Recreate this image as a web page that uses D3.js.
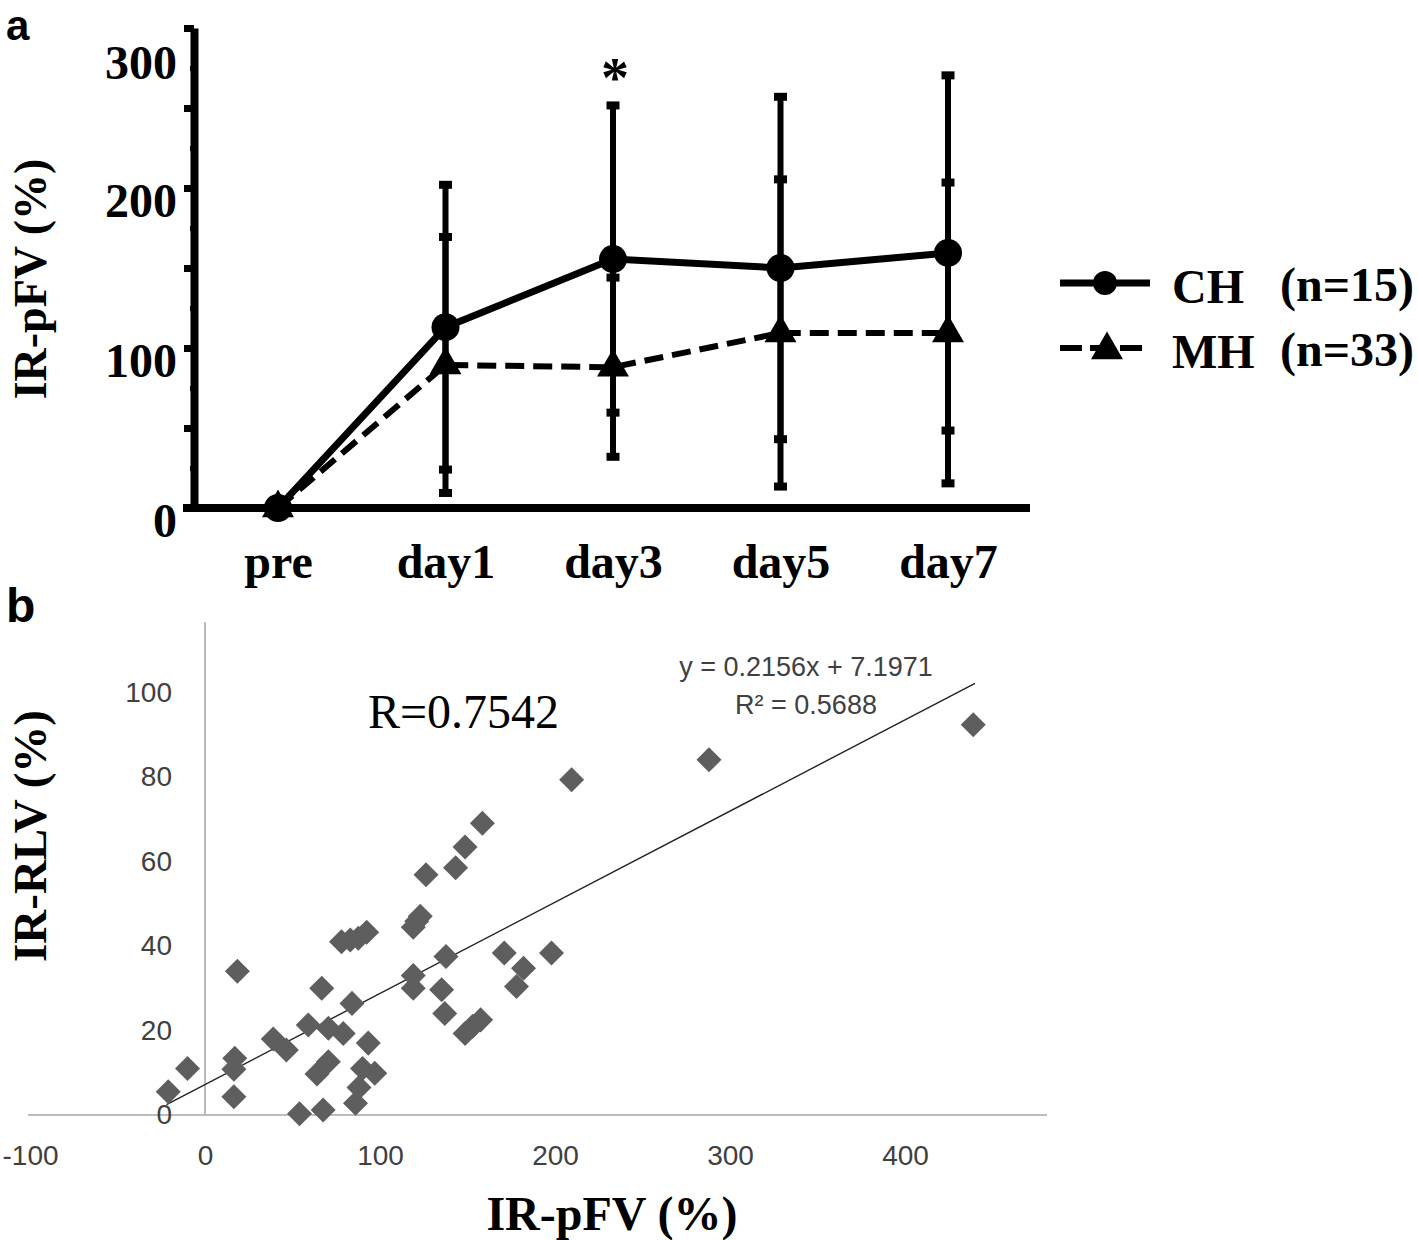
<!DOCTYPE html>
<html>
<head>
<meta charset="utf-8">
<script src="https://cdn.jsdelivr.net/npm/d3@7"></script>
<style>
  html, body { margin: 0; padding: 0; background: #fff; }
  svg { display: block; }
</style>
</head>
<body>
<svg id="chart" width="1418" height="1240"></svg>
<script>
// ---------------- DATA ----------------
// Panel a
const categories = ["pre", "day1", "day3", "day5", "day7"];
const chMean = [0, 113, 155.6, 150, 159.4];
const chSD   = [0, 89, 96, 107, 111];
const mhMean = [0, 89.4, 88, 109.4, 109.4];
const mhSD   = [0, 80, 56, 96, 94];
const yTicksA = [0, 100, 200, 300];
const yMinorA = [0, 25, 50, 75, 100, 125, 150, 175, 200, 225, 250, 275, 300];
const legendLabels = ["CH", "MH"];
const legendN = ["(n=15)", "(n=33)"];

// Panel b
const pfv = [-21, -10, 16.5, 16.5, 17, 18.5, 39, 46.5, 54, 59, 64, 66.7, 67.5, 70.5, 70.5, 79, 78, 83, 84, 86,
             87.6, 88, 90, 92.4, 93.3, 97, 119, 119, 119, 121, 123, 126.3, 135.2, 137, 137.7, 143.2, 148.6, 148.6,
             153, 157.5, 158.5, 171, 178, 182, 198, 209.5, 288, 439];
const rlv = [5.5, 11, 4.3, 10.8, 13.4, 34, 18, 15.4, 0.3, 21.3, 9.7, 30, 1.2, 12.6, 20.5, 19.3, 41, 41.4, 26.4, 2.8,
             41.8, 6.5, 11, 43.2, 17, 9.9, 30, 33, 44.4, 45.8, 47, 56.8, 29.6, 24, 37.5, 58.5, 63.4, 19.3,
             21, 22.5, 69, 38.3, 30.4, 34.7, 38.3, 79.3, 84, 92.3];
const xTicksB = [-100, 0, 100, 200, 300, 400];
const yTicksB = [0, 20, 40, 60, 80, 100];
const fitSlope = 0.2156, fitIntercept = 7.1971;
const fitRange = [-22, 440];
const eqText = "y = 0.2156x + 7.1971";
const r2Text = "R\u00B2 = 0.5688";
const rText = "R=0.7542";

// ---------------- DRAW ----------------
const svg = d3.select("#chart");
svg.append("rect").attr("width", 1418).attr("height", 1240).attr("fill", "#fff");

const SERIF = "'Liberation Serif', 'Times New Roman', serif";
const SANS = "'Liberation Sans', Arial, sans-serif";

// ===== Panel a =====
const xA = d3.scalePoint().domain(categories).range([278, 948]);
const yA = d3.scaleLinear().domain([0, 300]).range([508, 28]);

const gA = svg.append("g");

// y axis
const yAxisA = d3.axisLeft(yA).tickValues(yMinorA)
  .tickSizeInner(10).tickSizeOuter(0).tickPadding(7)
  .tickFormat(d => yTicksA.includes(d) ? d : "");
const gy = gA.append("g").attr("transform", "translate(194,0)").call(yAxisA);
gy.select(".domain").attr("stroke", "#000").attr("stroke-width", 8);
gy.selectAll(".tick line")
  .attr("stroke", "#000")
  .attr("stroke-width", d => d % 50 === 0 ? 7 : 5)
  .attr("x2", d => d % 50 === 0 ? -10 : -4);
gy.selectAll(".tick text")
  .attr("font-family", SERIF).attr("font-weight", "bold").attr("font-size", 48)
  .attr("fill", "#000").attr("dy", d => d === 300 ? "1.05em" : "0.6em");

// x axis
gA.append("line").attr("x1", 183).attr("x2", 1030)
  .attr("y1", yA(0)).attr("y2", yA(0))
  .attr("stroke", "#000").attr("stroke-width", 8);
const xAxisA = d3.axisBottom(xA).tickSize(0).tickPadding(36);
const gx = gA.append("g").attr("transform", `translate(0,${yA(0)})`).call(xAxisA);
gx.select(".domain").remove();
gx.selectAll(".tick text")
  .attr("font-family", SERIF).attr("font-weight", "bold").attr("font-size", 48).attr("fill", "#000");

// error bars
const series = [
  { name: "CH", mean: chMean, sd: chSD },
  { name: "MH", mean: mhMean, sd: mhSD }
];
series.forEach(s => {
  categories.forEach((c, i) => {
    if (s.sd[i] <= 0) return;
    const x = xA(c);
    const top = yA(s.mean[i] + s.sd[i]);
    const bot = yA(Math.max(0, s.mean[i] - s.sd[i]));
    gA.append("line").attr("x1", x).attr("x2", x).attr("y1", top).attr("y2", bot)
      .attr("stroke", "#000").attr("stroke-width", 6);
    [top, bot].forEach(yy => {
      gA.append("rect").attr("x", x - 6.5).attr("y", yy - 4).attr("width", 13).attr("height", 8).attr("fill", "#000");
    });
  });
});

// lines
const lineGen = d3.line().x((d, i) => xA(categories[i])).y(d => yA(d));
gA.append("path").datum(mhMean).attr("d", lineGen)
  .attr("fill", "none").attr("stroke", "#000").attr("stroke-width", 6).attr("stroke-dasharray", "19,9");
gA.append("path").datum(chMean).attr("d", lineGen)
  .attr("fill", "none").attr("stroke", "#000").attr("stroke-width", 7);

// markers
gA.selectAll(".ch").data(chMean).join("circle")
  .attr("cx", (d, i) => xA(categories[i])).attr("cy", d => yA(d)).attr("r", 14).attr("fill", "#000");
const tri = d3.symbol().type(d3.symbolTriangle).size(443);
gA.selectAll(".mh").data(mhMean).join("path")
  .attr("d", tri)
  .attr("transform", (d, i) => `translate(${xA(categories[i])},${yA(d)})`)
  .attr("fill", "#000");

// asterisk
gA.append("text").attr("x", xA("day3") + 2).attr("y", 97).attr("text-anchor", "middle")
  .attr("font-family", SERIF).attr("font-weight", "bold").attr("font-size", 56).text("*");

// y title
gA.append("text").attr("transform", "translate(46,279) rotate(-90)").attr("text-anchor", "middle")
  .attr("font-family", SERIF).attr("font-weight", "bold").attr("font-size", 46).text("IR-pFV (%)");

// panel letter
svg.append("text").attr("x", 6).attr("y", 40).attr("font-family", SANS).attr("font-weight", "bold")
  .attr("font-size", 42).text("a");

// legend
const lg = svg.append("g");
const legRows = [283, 348];
lg.append("line").attr("x1", 1060).attr("x2", 1150).attr("y1", legRows[0]).attr("y2", legRows[0])
  .attr("stroke", "#000").attr("stroke-width", 7);
lg.append("circle").attr("cx", 1105).attr("cy", legRows[0]).attr("r", 12).attr("fill", "#000");
lg.append("line").attr("x1", 1060).attr("x2", 1150).attr("y1", legRows[1]).attr("y2", legRows[1])
  .attr("stroke", "#000").attr("stroke-width", 6).attr("stroke-dasharray", "22,8");
lg.append("path").attr("d", tri).attr("transform", `translate(1107,${legRows[1] + 2})`).attr("fill", "#000");
legendLabels.forEach((t, i) => {
  lg.append("text").attr("x", 1172).attr("y", legRows[i] + 20)
    .attr("font-family", SERIF).attr("font-weight", "bold").attr("font-size", 48).text(t);
  lg.append("text").attr("x", 1280).attr("y", legRows[i] + 18)
    .attr("font-family", SERIF).attr("font-weight", "bold").attr("font-size", 48).text(legendN[i]);
});

// ===== Panel b =====
const xB = d3.scaleLinear().domain([-100, 480]).range([30, 1045]);
const yB = d3.scaleLinear().domain([0, 116.6]).range([1115, 622]);
const gB = svg.append("g");

// axis lines
gB.append("line").attr("x1", 28).attr("x2", 1047).attr("y1", yB(0)).attr("y2", yB(0))
  .attr("stroke", "#a6a6a6").attr("stroke-width", 1.5);
gB.append("line").attr("x1", xB(0)).attr("x2", xB(0)).attr("y1", yB(0)).attr("y2", yB(116.6))
  .attr("stroke", "#a6a6a6").attr("stroke-width", 1.5);

// tick labels
const xAxisB = d3.axisBottom(xB).tickValues(xTicksB).tickSize(0).tickPadding(30).tickFormat(d => String(d));
const gxB = gB.append("g").attr("transform", `translate(0,${yB(0)})`).call(xAxisB);
gxB.select(".domain").remove();
gxB.selectAll(".tick text").attr("font-family", SANS).attr("font-size", 28).attr("fill", "#404040");

const yAxisB = d3.axisLeft(yB).tickValues(yTicksB).tickSize(0).tickPadding(33).tickFormat(d => String(d));
const gyB = gB.append("g").attr("transform", `translate(${xB(0)},0)`).call(yAxisB);
gyB.select(".domain").remove();
gyB.selectAll(".tick text").attr("font-family", SANS).attr("font-size", 28).attr("fill", "#404040");

// trend line
gB.append("line")
  .attr("x1", xB(fitRange[0])).attr("y1", yB(fitSlope * fitRange[0] + fitIntercept))
  .attr("x2", xB(fitRange[1])).attr("y2", yB(fitSlope * fitRange[1] + fitIntercept))
  .attr("stroke", "#222").attr("stroke-width", 1.4);

// diamonds
const diamond = d3.symbol().type(d3.symbolSquare).size(313);
gB.selectAll(".pt").data(pfv.map((x, i) => [x, rlv[i]])).join("path")
  .attr("d", diamond)
  .attr("transform", d => `translate(${xB(d[0])},${yB(d[1])}) rotate(45)`)
  .attr("fill", "#5e5e5e");

// annotations
gB.append("text").attr("x", 368).attr("y", 728)
  .attr("font-family", SERIF).attr("font-size", 48).attr("fill", "#000").text(rText);
gB.append("text").attr("x", 806).attr("y", 676).attr("text-anchor", "middle")
  .attr("font-family", SANS).attr("font-size", 27).attr("fill", "#404040").text(eqText);
gB.append("text").attr("x", 806).attr("y", 714).attr("text-anchor", "middle")
  .attr("font-family", SANS).attr("font-size", 27).attr("fill", "#404040").text(r2Text);

// titles
gB.append("text").attr("x", 612).attr("y", 1230).attr("text-anchor", "middle")
  .attr("font-family", SERIF).attr("font-weight", "bold").attr("font-size", 48).text("IR-pFV (%)");
gB.append("text").attr("transform", "translate(46,836) rotate(-90)").attr("text-anchor", "middle")
  .attr("font-family", SERIF).attr("font-weight", "bold").attr("font-size", 47).text("IR-RLV (%)");

svg.append("text").attr("x", 6).attr("y", 622).attr("font-family", SANS).attr("font-weight", "bold")
  .attr("font-size", 48).text("b");
</script>
</body>
</html>
